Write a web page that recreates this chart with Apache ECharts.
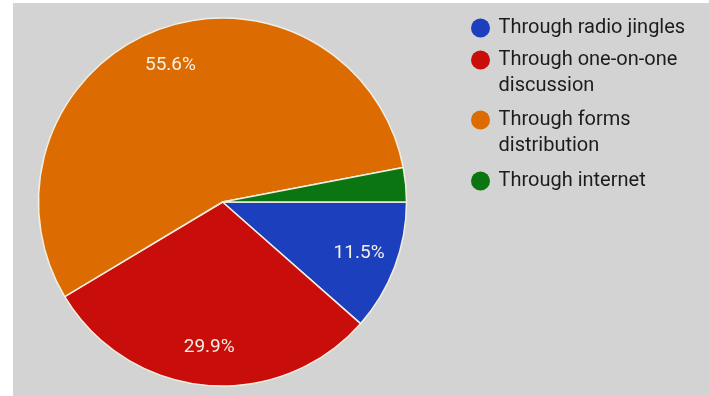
<!DOCTYPE html>
<html>
<head>
<meta charset="utf-8">
<script src="https://cdn.jsdelivr.net/npm/echarts@6/dist/echarts.min.js"></script>
<style>
  html, body { margin: 0; padding: 0; background: #ffffff; }
  #chart { position: absolute; left: 13px; top: 3px; width: 696px; height: 393px; background: #d3d3d3; }
</style>
</head>
<body>
<div id="chart"></div>
<script>
// Survey: channels through which respondents were reached
const categories = [
  'Through radio jingles',
  'Through one-on-one discussion',
  'Through forms distribution',
  'Through internet'
];
const legendLines = [
  ['Through radio jingles'],
  ['Through one-on-one', 'discussion'],
  ['Through forms', 'distribution'],
  ['Through internet']
];
const shares = [11.5, 29.9, 55.6, 3.0];
const sliceColors = ['#1c40bd', '#c90d0b', '#dc6b02', '#0b7512'];
const showPercent = [true, true, true, false];

const chart = echarts.init(document.getElementById('chart'), null, { renderer: 'canvas' });

const FONT = 'Roboto, "Noto Sans", sans-serif';
const center = [209.5, 199];
const outerR = 184;

// One legend per entry so each can sit at its own row. Wrapped entries get an
// empty leading line so the marker (centred on the text block) lines up with
// the first line of the label.
const legendTops = [12, 18, 78, 165];
const legends = categories.map((name, i) => {
  const lines = legendLines[i];
  const text = lines.length > 1 ? '\n' + lines.join('\n') : lines[0];
  return {
    orient: 'vertical',
    left: 458,
    top: legendTops[i],
    padding: 0,
    icon: 'circle',
    itemWidth: 26,
    itemHeight: 19,
    itemStyle: { borderWidth: 0 },
    selectedMode: false,
    formatter: () => text,
    textStyle: {
      fontFamily: FONT,
      fontSize: 20,
      color: '#1c1c1c',
      lineHeight: 26
    },
    data: [name]
  };
});

chart.setOption({
  animation: false,
  backgroundColor: '#d3d3d3',
  color: sliceColors,
  legend: legends,
  series: [
    {
      name: 'slices',
      type: 'pie',
      center: center,
      radius: [0, outerR],
      startAngle: 0,
      clockwise: true,
      avoidLabelOverlap: false,
      silent: true,
      itemStyle: { borderColor: '#f2efe0', borderWidth: 1.5 },
      label: { show: false },
      labelLine: { show: false },
      data: categories.map((name, i) => ({ name: name, value: shares[i] }))
    },
    {
      // transparent ring that only carries the percentage labels
      name: 'labels',
      type: 'pie',
      center: center,
      radius: [102, outerR],
      startAngle: 0,
      clockwise: true,
      avoidLabelOverlap: false,
      silent: true,
      legendHoverLink: false,
      itemStyle: { color: 'rgba(0,0,0,0)', borderWidth: 0 },
      label: {
        position: 'inside',
        formatter: '{d}%',
        fontFamily: FONT,
        fontSize: 19,
        color: '#f4f0e4'
      },
      labelLine: { show: false },
      data: categories.map((name, i) => ({
        name: name + ' ',
        value: shares[i],
        label: { show: showPercent[i] }
      }))
    }
  ]
});
</script>
</body>
</html>
